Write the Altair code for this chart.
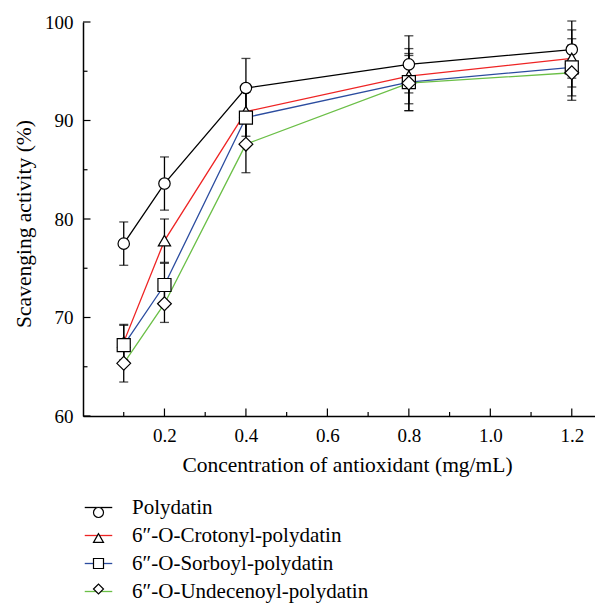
import altair as alt
import pandas as pd

# ---- data ----
conc = [0.1, 0.2, 0.4, 0.8, 1.2]
series_names = [
    "Polydatin",
    "6\u2033-O-Crotonyl-polydatin",
    "6\u2033-O-Sorboyl-polydatin",
    "6\u2033-O-Undecenoyl-polydatin",
]
series_codes = ["s1", "s2", "s3", "s4"]
size_codes = ["z1", "z2", "z3", "z4"]
polydatin = [77.5, 83.6, 93.3, 95.7, 97.2]
polydatin_err = [2.2, 2.7, 3.0, 2.9, 2.9]
crotonyl = [67.5, 77.8, 90.9, 94.5, 96.3]
crotonyl_err = [1.8, 2.2, 2.5, 2.8, 2.9]
sorboyl = [67.2, 73.3, 90.3, 93.9, 95.4]
sorboyl_err = [2.0, 2.2, 2.6, 2.9, 2.9]
undecenoyl = [65.35, 71.4, 87.6, 93.8, 94.85]
undecenoyl_err = [1.9, 1.9, 2.9, 2.8, 2.8]

x_major = [0.2, 0.4, 0.6, 0.8, 1.0, 1.2]
x_minor = [0.1, 0.3, 0.5, 0.7, 0.9, 1.1]
y_major = [60, 70, 80, 90, 100]
y_minor = [65, 75, 85, 95]

# ---- styles ----
colors = ["#000000", "#ee2424", "#2b4c9f", "#6bbf47"]
shapes = ["circle", "triangle-up", "square", "diamond"]
sizes = [130, 190, 100, 175]
FONT = "Liberation Serif"
W, H = 512, 394

values = [polydatin, crotonyl, sorboyl, undecenoyl]
errs = [polydatin_err, crotonyl_err, sorboyl_err, undecenoyl_err]
rows = []
for name, code, zc, vals, es in zip(series_names, series_codes, size_codes, values, errs):
    for c, v, e in zip(conc, vals, es):
        rows.append(dict(series=name, code=code, zcode=zc, conc=c, value=v,
                         lo=v - e, hi=v + e))
df = pd.DataFrame(rows)
caps = pd.concat([df.assign(cap=df["lo"]), df.assign(cap=df["hi"])])

xscale = alt.Scale(domain=[0, 1.257], nice=False, zero=False)
yscale = alt.Scale(domain=[60, 100], nice=False, zero=False)
XT = "Concentration of antioxidant (mg/mL)"
YT = "Scavenging activity (%)"

xaxis = alt.Axis(values=x_major, format=".1f", ticks=False, grid=False,
                 domainColor="black", domainWidth=1.5, labelFontSize=19,
                 labelPadding=10, labelColor="black", labelOverlap=False,
                 labelFlush=False, titleFontSize=21.5, titleFontWeight="normal",
                 titleColor="black", titleX=264, titleY=55.5,
                 titleBaseline="alphabetic", titleAlign="center")
yaxis = alt.Axis(values=y_major, format="d", ticks=False, grid=False,
                 domainColor="black", domainWidth=1.5, labelFontSize=19,
                 labelPadding=10, labelColor="black", labelOverlap=False,
                 labelFlush=False, titleFontSize=21.5, titleFontWeight="normal",
                 titleColor="black", titleX=-53, titleY=201.5,
                 titleBaseline="alphabetic", titleAlign="center", titleAngle=-90)


def X(field):
    return alt.X(field, scale=xscale, axis=xaxis, title=XT)


def Y(field):
    return alt.Y(field, scale=yscale, axis=yaxis, title=YT)


color_legend = alt.Legend(orient="none", legendX=5, legendY=475, title=None,
                          symbolType="M-2.75,0H2.75", symbolSize=100,
                          symbolStrokeWidth=1.3, labelFontSize=21,
                          labelFont=FONT, labelOffset=23, rowPadding=6,
                          padding=0, labelLimit=400, labelColor="black")
shape_legend = alt.Legend(orient="none", legendX=5, legendY=480, title=None,
                          symbolSize=100, symbolStrokeWidth=1.2,
                          labelExpr="''", labelFontSize=21, rowPadding=3.5,
                          padding=0)

# inward ticks
tick_x_major = alt.Chart(pd.DataFrame({"v": x_major})).mark_rule(
    color="black", strokeWidth=1.2).encode(
    x=X("v:Q"), y=alt.value(H), y2=alt.value(H - 7.5))
tick_x_minor = alt.Chart(pd.DataFrame({"v": x_minor})).mark_rule(
    color="black", strokeWidth=1.2).encode(
    x=X("v:Q"), y=alt.value(H), y2=alt.value(H - 4))
tick_y_major = alt.Chart(pd.DataFrame({"v": y_major})).mark_rule(
    color="black", strokeWidth=1.2).encode(
    y=Y("v:Q"), x=alt.value(0), x2=alt.value(7.5))
tick_y_minor = alt.Chart(pd.DataFrame({"v": y_minor})).mark_rule(
    color="black", strokeWidth=1.2).encode(
    y=Y("v:Q"), x=alt.value(0), x2=alt.value(4.5))

lines = alt.Chart(df).mark_line(strokeWidth=1.3).encode(
    x=X("conc:Q"), y=Y("value:Q"),
    color=alt.Color("series:N", scale=alt.Scale(domain=series_names, range=colors),
                    legend=color_legend))

bars = alt.Chart(df).mark_rule(color="black", strokeWidth=1.3).encode(
    x=X("conc:Q"), y=Y("lo:Q"), y2="hi:Q", detail="series:N")

capm = alt.Chart(caps).mark_tick(color="black", orient="horizontal", size=9,
                                 thickness=1.3).encode(
    x=X("conc:Q"), y=Y("cap:Q"), detail="series:N")

points = alt.Chart(df).mark_point(filled=False, fill="white", fillOpacity=1,
                                  stroke="black", strokeWidth=1.2,
                                  opacity=1).encode(
    x=X("conc:Q"), y=Y("value:Q"),
    shape=alt.Shape("code:N", scale=alt.Scale(domain=series_codes, range=shapes),
                    legend=shape_legend),
    size=alt.Size("zcode:O", scale=alt.Scale(domain=size_codes, range=sizes),
                  legend=None))

chart = alt.layer(tick_x_major, tick_x_minor, tick_y_major, tick_y_minor,
                  lines, bars, capm, points).properties(
    width=W, height=H,
    padding={"left": 75, "top": 14, "right": 0, "bottom": 190},
    autosize=alt.AutoSizeParams(type="none"),
).configure(font=FONT).configure_view(stroke=None).configure_axis(
    labelFont=FONT, titleFont=FONT)

chart.save("out.html", embed_options={"renderer": "svg", "actions": False})
